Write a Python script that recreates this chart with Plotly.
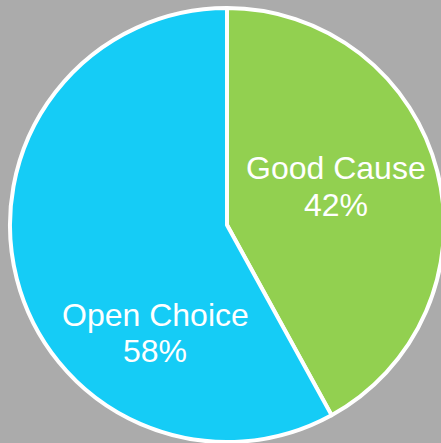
import plotly.graph_objects as go

# Share of responses by choice type
categories = ["Good Cause", "Open Choice"]
shares = [42, 58]
colors = ["#92D050", "#15CCF6"]

W, H = 447, 443          # figure is a touch wider than the view; the right edge is clipped
R_CX, R_CY = 227, 225    # pie centre in pixels (from top-left)
radius = 217

# domain chosen so the pie is centred at (R_CX, R_CY) with the given radius
dom_x = [(R_CX - radius) / W, (R_CX + radius) / W]
dom_y = [1 - (R_CY + radius) / H, 1 - (R_CY - radius) / H]

fig = go.Figure(
    go.Pie(
        labels=categories,
        values=shares,
        sort=False,
        direction="clockwise",
        rotation=0,
        marker=dict(colors=colors, line=dict(color="white", width=4)),
        textinfo="none",
        hoverinfo="label+percent",
        showlegend=False,
        domain=dict(x=[max(dom_x[0], 0), min(dom_x[1], 1)],
                    y=[max(dom_y[0], 0), min(dom_y[1], 1)]),
    )
)

# name / percentage line centres (pixels) for each slice
name_px = [(336, 168), (155, 315)]
pct_px = [(336, 205), (155, 351)]
total = sum(shares)
font = dict(family="Liberation Sans, Arial, sans-serif", size=32, color="white")
annotations = []
for name, val, (nx, ny), (qx, qy) in zip(categories, shares, name_px, pct_px):
    for txt, (px, py) in ((name, (nx, ny)), (f"{round(100 * val / total)}%", (qx, qy))):
        annotations.append(
            dict(
                x=px / W, y=1 - py / H, xref="paper", yref="paper",
                text=txt, showarrow=False, font=font,
                xanchor="center", yanchor="middle", align="center",
            )
        )

fig.update_layout(
    width=W,
    height=H,
    margin=dict(l=0, r=0, t=0, b=0),
    paper_bgcolor="#ababab",
    plot_bgcolor="#ababab",
    annotations=annotations,
)

fig.write_html(
    "out.html",
    post_script="document.documentElement.style.overflow='hidden';document.body.style.overflow='hidden';",
)
